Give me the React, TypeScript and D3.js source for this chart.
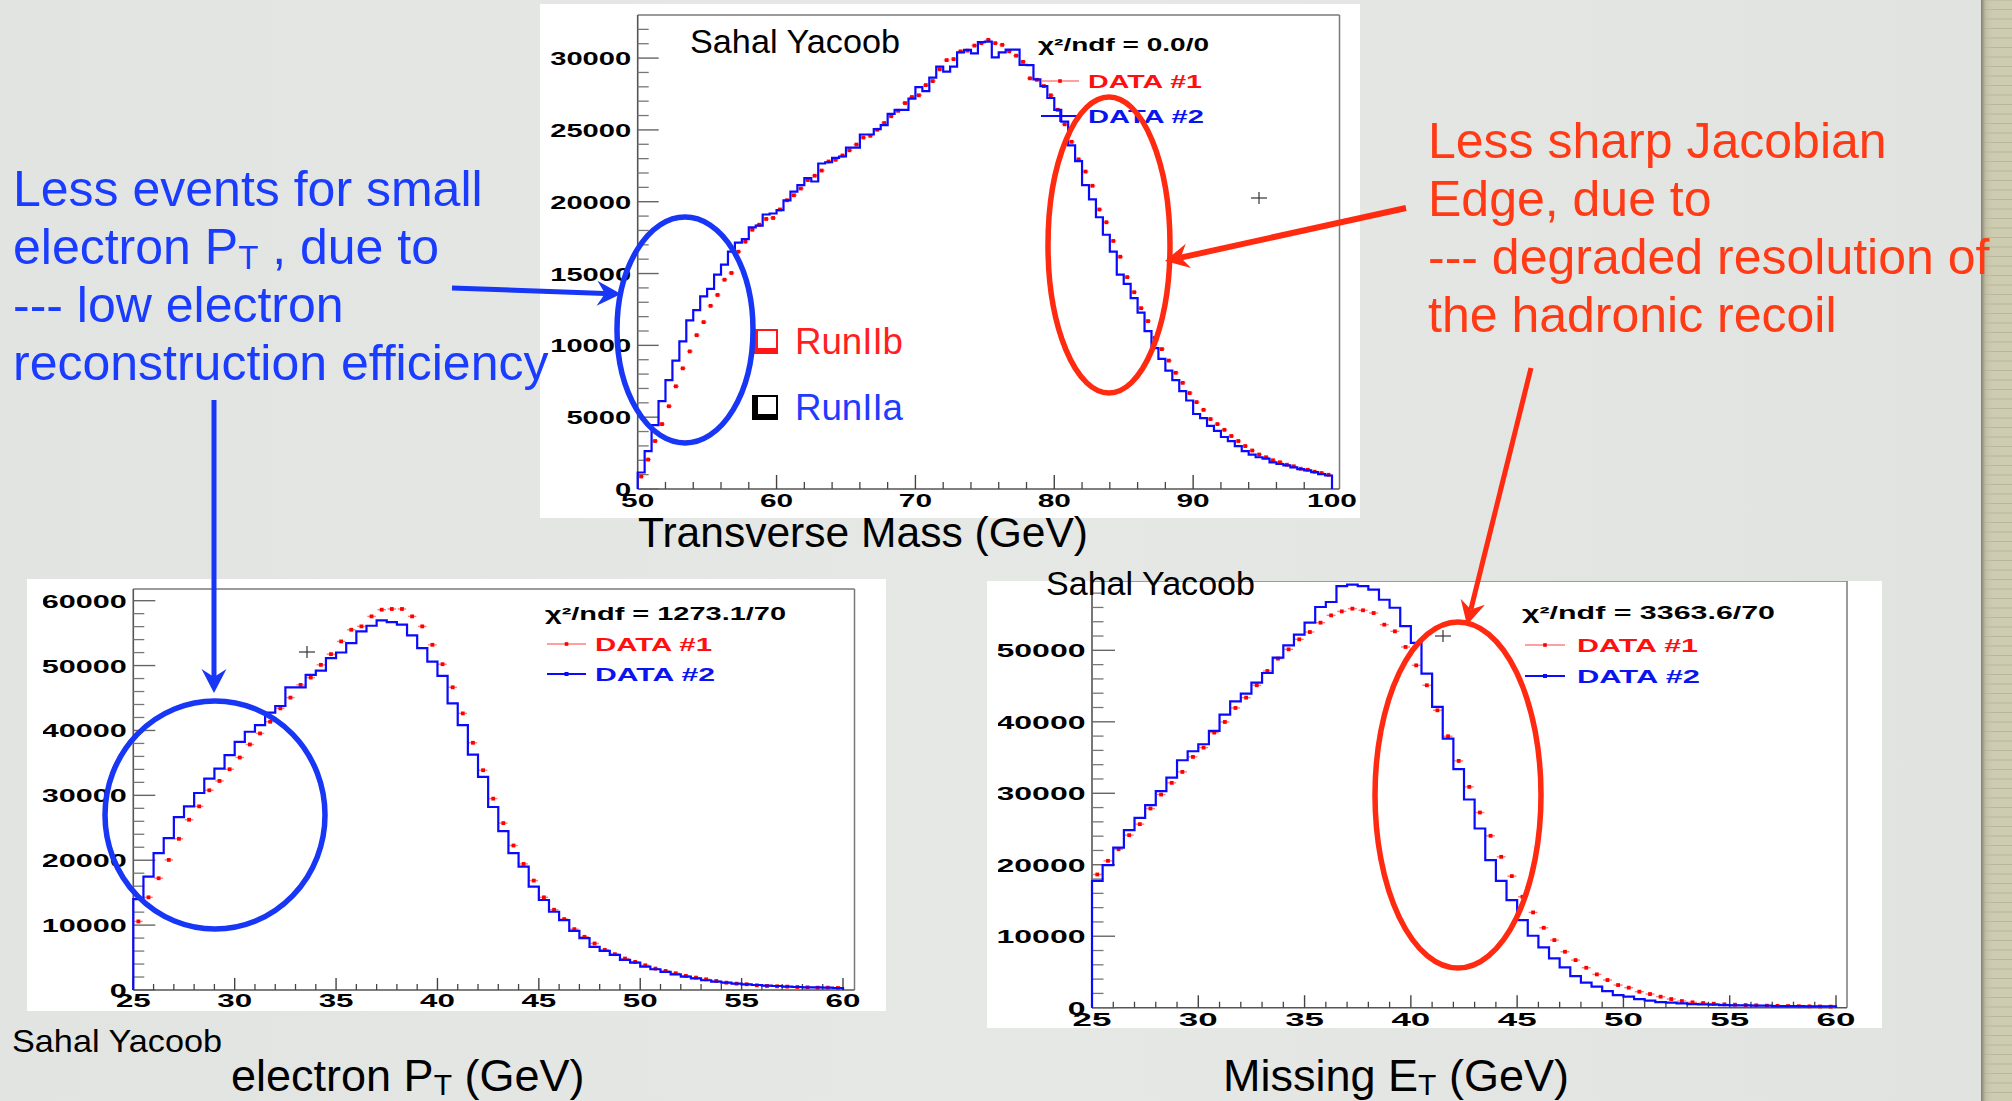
import React from "react";
import * as d3 from "d3";

// ---- Transverse mass, 50–100 GeV, 0.5 GeV bins ----
const mtRunIIa = [
  1150, 2640, 4450, 6120, 7580, 8940, 10280, 11740, 12450, 13410,
  13930, 14920, 15620, 16520, 17150, 17390, 18210, 18330, 19110, 19180,
  19410, 20100, 20700, 21150, 21650, 21410, 22660, 22750, 23060, 23150,
  23770, 23770, 24680, 24680, 25060, 25340, 26120, 26400, 26400, 27180,
  27980, 27700, 28640, 29410, 29060, 29410, 30400, 30570, 30330, 31110,
  31150, 30050, 30400, 30590, 30590, 29530, 29510, 28520, 28050, 27220,
  26400, 25580, 23930, 22820, 21150, 20170, 18920, 17700, 16520, 14920,
  14280, 13290, 12280, 10990, 9810, 9060, 8240, 7580, 6820, 6160,
  5220, 4940, 4400, 4050, 3620, 3340, 2990, 2640, 2400, 2210,
  2120, 1860, 1740, 1650, 1510, 1390, 1290, 1180, 1040, 940,
];
const mtRunIIb = [
  870, 2050, 3340, 4520, 5760, 7150, 8400, 9580, 10710, 11620,
  12750, 13510, 14570, 15040, 16520, 17220, 18050, 18400, 18800, 18870,
  19460, 20100, 20450, 20920, 21510, 21810, 22170, 22800, 22920, 23220,
  23580, 23980, 24470, 24590, 25010, 25480, 25950, 26330, 26870, 27290,
  27410, 28120, 28400, 29220, 29860, 29930, 30470, 30520, 30870, 31040,
  31270, 31040, 30920, 30470, 30170, 29740, 28590, 28490, 28050, 27410,
  26400, 25390, 24170, 22950, 22100, 21110, 19460, 18570, 17270, 16170,
  14750, 13700, 12590, 11690, 10520, 9740, 8940, 8090, 7390, 6680,
  6050, 5510, 4870, 4520, 4120, 3690, 3340, 2990, 2680, 2400,
  2210, 2000, 1860, 1690, 1580, 1410, 1340, 1200, 1110, 990,
];

// ---- Electron pT, 25–60 GeV, 0.5 GeV bins ----
const ptRunIIa = [
  14020, 17480, 21080, 23400, 26650, 28300, 30360, 32580, 34130, 36190,
  38250, 39800, 40830, 42740, 43770, 46650, 46650, 48560, 49230, 51140,
  52010, 53460, 55260, 56140, 56960, 56700, 56300, 54640, 52690, 50620,
  48400, 44180, 40830, 36290, 32840, 28200, 24490, 21080, 19020, 15930,
  13870, 12060, 10770, 9120, 7990, 6650, 6030, 5410, 4640, 4230,
  3610, 3200, 2780, 2420, 2060, 1800, 1500, 1290, 1130, 980,
  880, 770, 670, 620, 520, 460, 410, 410, 360, 310,
];
const ptRunIIb = [
  10570, 14280, 17220, 20050, 23300, 26240, 28300, 30780, 32220, 34020,
  35830, 37840, 39540, 41340, 43410, 45060, 47020, 48150, 50110, 51760,
  53720, 55520, 56040, 57580, 58610, 58720, 58720, 57580, 56040, 53200,
  50210, 46650, 42630, 38100, 33870, 29490, 25720, 22270, 19430, 16860,
  14280, 12370, 10930, 9380, 8200, 7170, 6190, 5520, 4850, 4330,
  3810, 3300, 2940, 2580, 2170, 1910, 1650, 1390, 1130, 980,
  880, 720, 620, 570, 520, 460, 410, 360, 360, 310,
];

// ---- Missing ET, 25–60 GeV, 0.5 GeV bins ----
const metRunIIa = [
  17750, 19940, 22410, 24840, 26560, 28330, 30290, 32200, 34620, 35880,
  36860, 38720, 41010, 42870, 43940, 45480, 46830, 48980, 50700, 52190,
  53870, 56060, 56760, 58990, 59180, 58990, 58480, 57080, 55960, 53400,
  51030, 46740, 42080, 37650, 33370, 29130, 25070, 20640, 17750, 15050,
  12260, 10070, 8430, 6900, 5640, 4430, 3500, 2940, 2330, 1770,
  1540, 1210, 980, 790, 700, 610, 510, 470, 420, 370,
  330, 330, 280, 280, 230, 230, 230, 190, 190, 190,
];
const metRunIIb = [
  18640, 20550, 22180, 24140, 25680, 27870, 29820, 31460, 32990, 35090,
  36390, 38490, 39980, 41940, 43380, 45110, 47110, 48840, 50140, 51540,
  52560, 53870, 54890, 55450, 55830, 55600, 55220, 53590, 52660, 50470,
  47900, 45110, 41610, 37980, 34530, 30900, 27310, 24050, 21110, 18410,
  15520, 13330, 11180, 9460, 7830, 6660, 5590, 4660, 3870, 3170,
  2800, 2240, 1910, 1540, 1210, 930, 750, 650, 560, 470,
  420, 370, 330, 280, 260, 230, 210, 190, 170, 150,
];

const mtXTicks = [50, 60, 70, 80, 90, 100];
const mtYTicks = [0, 5000, 10000, 15000, 20000, 25000, 30000];
const ptXTicks = [25, 30, 35, 40, 45, 50, 55, 60];
const ptYTicks = [0, 10000, 20000, 30000, 40000, 50000, 60000];
const metXTicks = [25, 30, 35, 40, 45, 50, 55, 60];
const metYTicks = [0, 10000, 20000, 30000, 40000, 50000];

const seriesNames = ["DATA #1", "DATA #2"];
const chi2Texts = ["χ²/ndf = 0.0/0", "χ²/ndf = 1273.1/70", "χ²/ndf = 3363.6/70"];
const runNames = ["RunIIb", "RunIIa"];
const author = "Sahal Yacoob";
const leftNote = ["Less events for small", "electron P", "--- low electron", "reconstruction efficiency"];
const rightNote = ["Less sharp Jacobian", "Edge, due to", "--- degraded resolution of", "the hadronic recoil"];

const BLUE_INK = "#1a3cff";
const RED_INK = "#ff3a14";
const ROOT_FONT = "'Liberation Sans', Arial, Helvetica, sans-serif";

type Frame = { l: number; r: number; t: number; b: number };

// Text squeezed/stretched to a fixed width, the way the histogram images were scaled.
function Wide(props: {
  x: number; y: number; w: number; anchor?: "start" | "middle" | "end";
  size: number; fill?: string; bold?: boolean; children: React.ReactNode;
}) {
  const { x, y, w, anchor = "start", size, fill = "#000", bold = true, children } = props;
  const x0 = anchor === "end" ? x - w : anchor === "middle" ? x - w / 2 : x;
  return (
    <text
      x={x0}
      y={y}
      textLength={w}
      lengthAdjust="spacingAndGlyphs"
      fontFamily={ROOT_FONT}
      fontWeight={bold ? 700 : 400}
      fontSize={size}
      fill={fill}
    >
      {children}
    </text>
  );
}

type Legend = {
  chi2: string; chiX: number; chiY: number; chiW: number;
  lineX0: number; lineX1: number; redY: number; blueY: number;
  textX: number; w1: number; w2: number; topStyle?: boolean;
};

type PanelProps = {
  id: string;
  panel: { x: number; y: number; w: number; h: number };
  frame: Frame;
  drawTop: boolean;
  xMin: number; yMax: number; binW: number;
  xAt: [number, number];
  blue: number[]; red: number[];
  xTicks: number[]; xMinorStep: number;
  yTicks: number[]; yMinorStep: number;
  tickLen: { xMaj: number; xMin: number; yMaj: number; yMin: number };
  digitX: number; digitY: number; labelSize: number;
  xLabelBaseline: number;
  clipX: number;
  legend: Legend;
};

function HistPanel(p: PanelProps) {
  // xAt gives the pixel positions of xMin and of the last labelled tick
  const lastTick = p.xTicks[p.xTicks.length - 1];
  const x = d3.scaleLinear().domain([p.xMin, lastTick]).range(p.xAt);
  const y = d3.scaleLinear().domain([0, p.yMax]).range([p.frame.b, p.frame.t]);
  const n = p.blue.length;
  const pts: [number, number][] = [[p.xMin, 0]];
  p.blue.forEach((v, i) => pts.push([p.xMin + i * p.binW, v]));
  pts.push([p.xMin + n * p.binW, p.blue[n - 1]]);
  pts.push([p.xMin + n * p.binW, 0]);
  const stepLine = d3
    .line<[number, number]>()
    .x((d) => x(d[0]))
    .y((d) => y(d[1]))
    .curve(d3.curveStepAfter);
  const binPx = x(p.xMin + p.binW) - x(p.xMin);
  const xMinor = d3.range(p.xMin, lastTick + 1e-6, p.xMinorStep).filter((v) => !p.xTicks.includes(v));
  const yMinor = d3.range(0, p.yMax, p.yMinorStep).filter((v) => !p.yTicks.includes(v));
  const L = p.legend;
  const clipId = `${p.id}-clip`;
  return (
    <g>
      <defs>
        <clipPath id={clipId}>
          <rect x={p.clipX} y={p.panel.y} width={p.panel.x + p.panel.w - p.clipX} height={p.panel.h} />
        </clipPath>
      </defs>
      <rect x={p.panel.x} y={p.panel.y} width={p.panel.w} height={p.panel.h} fill="#ffffff" />
      <g clipPath={`url(#${clipId})`}>
        {/* frame */}
        {p.drawTop && (
          <line x1={p.frame.l} x2={p.frame.r} y1={p.frame.t} y2={p.frame.t} stroke="#7a7a7a" strokeWidth={1.5} />
        )}
        <line x1={p.frame.r} x2={p.frame.r} y1={p.frame.t} y2={p.frame.b} stroke="#7a7a7a" strokeWidth={1.5} />
        <line x1={p.frame.l} x2={p.frame.l} y1={p.frame.t} y2={p.frame.b} stroke="#555" strokeWidth={1.6} />
        <line x1={p.frame.l} x2={p.frame.r} y1={p.frame.b} y2={p.frame.b} stroke="#555" strokeWidth={1.6} />
        {/* ticks */}
        {p.yTicks.map((v) => (
          <line key={`ym${v}`} x1={p.frame.l} x2={p.frame.l + p.tickLen.yMaj} y1={y(v)} y2={y(v)} stroke="#666" strokeWidth={1.4} />
        ))}
        {yMinor.map((v) => (
          <line key={`yn${v}`} x1={p.frame.l} x2={p.frame.l + p.tickLen.yMin} y1={y(v)} y2={y(v)} stroke="#777" strokeWidth={1.3} />
        ))}
        {p.xTicks.map((v) => (
          <line key={`xm${v}`} x1={x(v)} x2={x(v)} y1={p.frame.b} y2={p.frame.b - p.tickLen.xMaj} stroke="#444" strokeWidth={1.4} />
        ))}
        {xMinor.map((v) => (
          <line key={`xn${v}`} x1={x(v)} x2={x(v)} y1={p.frame.b} y2={p.frame.b - p.tickLen.xMin} stroke="#444" strokeWidth={1.3} />
        ))}
        {/* tick labels */}
        {p.yTicks.map((v) => (
          <Wide key={`yl${v}`} x={p.frame.l - 6.5} y={y(v) + 7} w={String(v).length * p.digitY} anchor="end" size={p.labelSize}>
            {String(v)}
          </Wide>
        ))}
        {p.xTicks.map((v) => (
          <Wide key={`xl${v}`} x={x(v)} y={p.xLabelBaseline} w={String(v).length * p.digitX} anchor="middle" size={p.labelSize}>
            {String(v)}
          </Wide>
        ))}
        {/* RunIIb points with horizontal bin-width bars */}
        {p.red.map((v, i) => {
          const cx = x(p.xMin + (i + 0.5) * p.binW);
          const cy = y(v);
          return (
            <g key={`r${i}`}>
              <line x1={cx - binPx * 0.42} x2={cx + binPx * 0.42} y1={cy} y2={cy} stroke="#ff7a7a" strokeWidth={1.4} />
              <rect x={cx - 1.9} y={cy - 1.9} width={3.8} height={3.8} fill="#ff0000" />
            </g>
          );
        })}
        {/* RunIIa histogram */}
        <path d={stepLine(pts) ?? ""} fill="none" stroke="#0a0aff" strokeWidth={2.2} strokeLinejoin="miter" />
        {/* legend */}
        <Wide x={L.chiX} y={L.chiY} w={L.chiW} size={18}>{L.chi2}</Wide>
        <line x1={L.lineX0} x2={L.lineX1} y1={L.redY} y2={L.redY} stroke="#ff8080" strokeWidth={1.5} />
        <rect x={(L.lineX0 + L.lineX1) / 2 - 1.8} y={L.redY - 1.8} width={3.6} height={3.6} fill="#ff0000" />
        <Wide x={L.textX} y={L.redY + 7} w={L.w1} size={18} fill="#ff1010">{seriesNames[0]}</Wide>
        <line x1={L.lineX0} x2={L.lineX1} y1={L.blueY} y2={L.blueY} stroke="#0a0aff" strokeWidth={2} />
        {L.topStyle ? (
          <line x1={(L.lineX0 + L.lineX1) / 2} x2={(L.lineX0 + L.lineX1) / 2} y1={L.blueY - 6} y2={L.blueY + 6} stroke="#0a0aff" strokeWidth={1.5} />
        ) : (
          <rect x={(L.lineX0 + L.lineX1) / 2 - 2} y={L.blueY - 2} width={4} height={4} fill="#0a0aff" />
        )}
        <Wide x={L.textX} y={L.blueY + 7} w={L.w2} size={18} fill="#0a14f0">{seriesNames[1]}</Wide>
      </g>
    </g>
  );
}

function Arrow(props: { from: [number, number]; to: [number, number]; color: string; width: number }) {
  const [x1, y1] = props.from;
  const [x2, y2] = props.to;
  const len = Math.hypot(x2 - x1, y2 - y1);
  const ux = (x2 - x1) / len;
  const uy = (y2 - y1) / len;
  const px = -uy;
  const py = ux;
  const headLen = 24;
  const halfW = 12.5;
  const notch = 16;
  const bx = x2 - ux * headLen;
  const by = y2 - uy * headLen;
  const nx = x2 - ux * notch;
  const ny = y2 - uy * notch;
  const head = [
    [x2, y2],
    [bx + px * halfW, by + py * halfW],
    [nx, ny],
    [bx - px * halfW, by - py * halfW],
  ]
    .map((q) => q.join(","))
    .join(" ");
  return (
    <g>
      <line x1={x1} y1={y1} x2={nx} y2={ny} stroke={props.color} strokeWidth={props.width} />
      <polygon points={head} fill={props.color} />
    </g>
  );
}

function Cross(props: { x: number; y: number }) {
  return (
    <g stroke="#333" strokeWidth={1.2}>
      <line x1={props.x - 8} x2={props.x + 8} y1={props.y} y2={props.y} />
      <line x1={props.x} x2={props.x} y1={props.y - 6} y2={props.y + 6} />
    </g>
  );
}

function ShadowBox(props: { x: number; y: number; color: string }) {
  const { x, y, color } = props;
  return (
    <g>
      <rect x={x} y={y} width={26} height={25} fill={color} />
      <rect x={x + 6} y={y + 2} width={18} height={17} fill="#ffffff" />
    </g>
  );
}

export default function App() {
  const W = 2012;
  const H = 1101;
  const stripLines = d3.range(0, H, 9.5);
  return (
    <svg
      width={W}
      height={H}
      viewBox={`0 0 ${W} ${H}`}
      style={{ position: "fixed", left: 0, top: 0, display: "block" }}
    >
      <defs>
        <linearGradient id="bgGrad" x1="0" x2="1" y1="0" y2="0">
          <stop offset="0" stopColor="#e2e4e1" />
          <stop offset="0.5" stopColor="#e6e8e5" />
          <stop offset="1" stopColor="#e1e3e0" />
        </linearGradient>
        <linearGradient id="stripShade" x1="0" x2="1" y1="0" y2="0">
          <stop offset="0" stopColor="#7d7c6c" />
          <stop offset="0.35" stopColor="#b9b89e" stopOpacity={0.6} />
          <stop offset="1" stopColor="#cfcdb2" stopOpacity={0} />
        </linearGradient>
      </defs>
      <rect width={W} height={H} fill="url(#bgGrad)" />

      {/* right-hand binder strip */}
      <rect x={1981} y={0} width={W - 1981} height={H} fill="#cdcbb0" />
      {stripLines.map((v) => (
        <line key={v} x1={1981} x2={W} y1={v} y2={v} stroke="#b6b79a" strokeWidth={1} />
      ))}
      <rect x={1981} y={0} width={14} height={H} fill="url(#stripShade)" />

      {/* transverse mass */}
      <HistPanel
        id="mt"
        panel={{ x: 540, y: 4, w: 820, h: 514 }}
        frame={{ l: 637.7, r: 1339.5, t: 15, b: 489 }}
        drawTop={true}
        xMin={50}
        xAt={[637.7, 1332]}
        yMax={33000}
        binW={0.5}
        blue={mtRunIIa}
        red={mtRunIIb}
        xTicks={mtXTicks}
        xMinorStep={2}
        yTicks={mtYTicks}
        yMinorStep={1000}
        tickLen={{ xMaj: 14, xMin: 7, yMaj: 21, yMin: 11 }}
        digitX={16.6}
        digitY={16.2}
        labelSize={19}
        xLabelBaseline={507}
        clipX={540}
        legend={{
          chi2: chi2Texts[0], chiX: 1038, chiY: 51, chiW: 171,
          lineX0: 1041, lineX1: 1079, redY: 81, blueY: 116,
          textX: 1088, w1: 114, w2: 116, topStyle: true,
        }}
      />

      {/* electron pT */}
      <HistPanel
        id="pt"
        panel={{ x: 27, y: 579, w: 859, h: 432 }}
        frame={{ l: 133.3, r: 854.5, t: 589, b: 990 }}
        drawTop={true}
        xMin={25}
        xAt={[133.3, 843]}
        yMax={61800}
        binW={0.5}
        blue={ptRunIIa}
        red={ptRunIIb}
        xTicks={ptXTicks}
        xMinorStep={1}
        yTicks={ptYTicks}
        yMinorStep={2000}
        tickLen={{ xMaj: 12, xMin: 6, yMaj: 22, yMin: 11 }}
        digitX={17.4}
        digitY={17}
        labelSize={18.5}
        xLabelBaseline={1007}
        clipX={43}
        legend={{
          chi2: chi2Texts[1], chiX: 545, chiY: 620, chiW: 241,
          lineX0: 547, lineX1: 586, redY: 644, blueY: 674,
          textX: 595, w1: 117, w2: 120,
        }}
      />

      {/* missing ET */}
      <HistPanel
        id="met"
        panel={{ x: 987, y: 581, w: 895, h: 447 }}
        frame={{ l: 1092, r: 1847, t: 581, b: 1007.7 }}
        drawTop={true}
        xMin={25}
        xAt={[1092, 1836]}
        yMax={59700}
        binW={0.5}
        blue={metRunIIa}
        red={metRunIIb}
        xTicks={metXTicks}
        xMinorStep={1}
        yTicks={metYTicks}
        yMinorStep={2000}
        tickLen={{ xMaj: 12.5, xMin: 6, yMaj: 23, yMin: 11.5 }}
        digitX={19.4}
        digitY={17.8}
        labelSize={18.5}
        xLabelBaseline={1026}
        clipX={998}
        legend={{
          chi2: chi2Texts[2], chiX: 1522, chiY: 619, chiW: 253,
          lineX0: 1525, lineX1: 1565, redY: 645, blueY: 676,
          textX: 1577, w1: 121, w2: 123,
        }}
      />

      {/* authors and run labels */}
      <g fontFamily={ROOT_FONT}>
        <text x={690} y={53} fontSize={33.5} textLength={210} lengthAdjust="spacingAndGlyphs" fill="#000">{author}</text>
        <text x={1046} y={595} fontSize={33} textLength={209} lengthAdjust="spacingAndGlyphs" fill="#000">{author}</text>
        <text x={12} y={1052} fontSize={32} textLength={210} lengthAdjust="spacingAndGlyphs" fill="#000">{author}</text>

        <ShadowBox x={752} y={329} color="#ff1818" />
        <text x={795} y={354} fontSize={36} textLength={108} lengthAdjust="spacingAndGlyphs" fill="#ff1f1f">{runNames[0]}</text>
        <ShadowBox x={752} y={395} color="#000000" />
        <text x={795} y={420} fontSize={36} textLength={108} lengthAdjust="spacingAndGlyphs" fill="#1e3cff">{runNames[1]}</text>
      </g>

      {/* axis titles */}
      <g fontFamily={ROOT_FONT} fill="#000">
        <text x={638} y={547} fontSize={42} textLength={450} lengthAdjust="spacingAndGlyphs">Transverse Mass (GeV)</text>
        <text x={231} y={1091} fontSize={45}>
          electron P<tspan fontSize={30} dy={4}>T</tspan>
          <tspan dy={-4}> (GeV)</tspan>
        </text>
        <text x={1223} y={1091} fontSize={45}>
          Missing E<tspan fontSize={30} dy={4}>T</tspan>
          <tspan dy={-4}> (GeV)</tspan>
        </text>
      </g>

      {/* annotation text */}
      <g fontFamily={ROOT_FONT} fontSize={50} fill={BLUE_INK}>
        <text x={13} y={206}>{leftNote[0]}</text>
        <text x={13} y={264}>
          {leftNote[1]}
          <tspan fontSize={33} dy={5}>T</tspan>
          <tspan dy={-5}> , due to</tspan>
        </text>
        <text x={13} y={322}>{leftNote[2]}</text>
        <text x={13} y={380}>{leftNote[3]}</text>
      </g>
      <g fontFamily={ROOT_FONT} fontSize={50} fill={RED_INK}>
        {rightNote.map((t, i) => (
          <text key={i} x={1428} y={158 + i * 58}>{t}</text>
        ))}
      </g>

      {/* ellipses */}
      <ellipse cx={685} cy={330} rx={68} ry={113} fill="none" stroke="#1836f5" strokeWidth={5.5} />
      <ellipse cx={1109} cy={245} rx={61} ry={148} fill="none" stroke="#ff2a10" strokeWidth={5.5} />
      <ellipse cx={215} cy={815} rx={110} ry={114} fill="none" stroke="#1836f5" strokeWidth={5.5} />
      <ellipse cx={1458} cy={795} rx={83} ry={173} fill="none" stroke="#ff2a10" strokeWidth={5.5} />

      {/* arrows */}
      <Arrow from={[452, 288]} to={[621, 294]} color="#1836f5" width={5} />
      <Arrow from={[214, 400]} to={[214, 693]} color="#1836f5" width={5} />
      <Arrow from={[1406, 208]} to={[1165, 261]} color="#ff2a10" width={6} />
      <Arrow from={[1531, 368]} to={[1467, 625]} color="#ff2a10" width={5} />

      {/* cursor marks */}
      <Cross x={1259} y={198} />
      <Cross x={307} y={652} />
      <Cross x={1443} y={636} />
    </svg>
  );
}
